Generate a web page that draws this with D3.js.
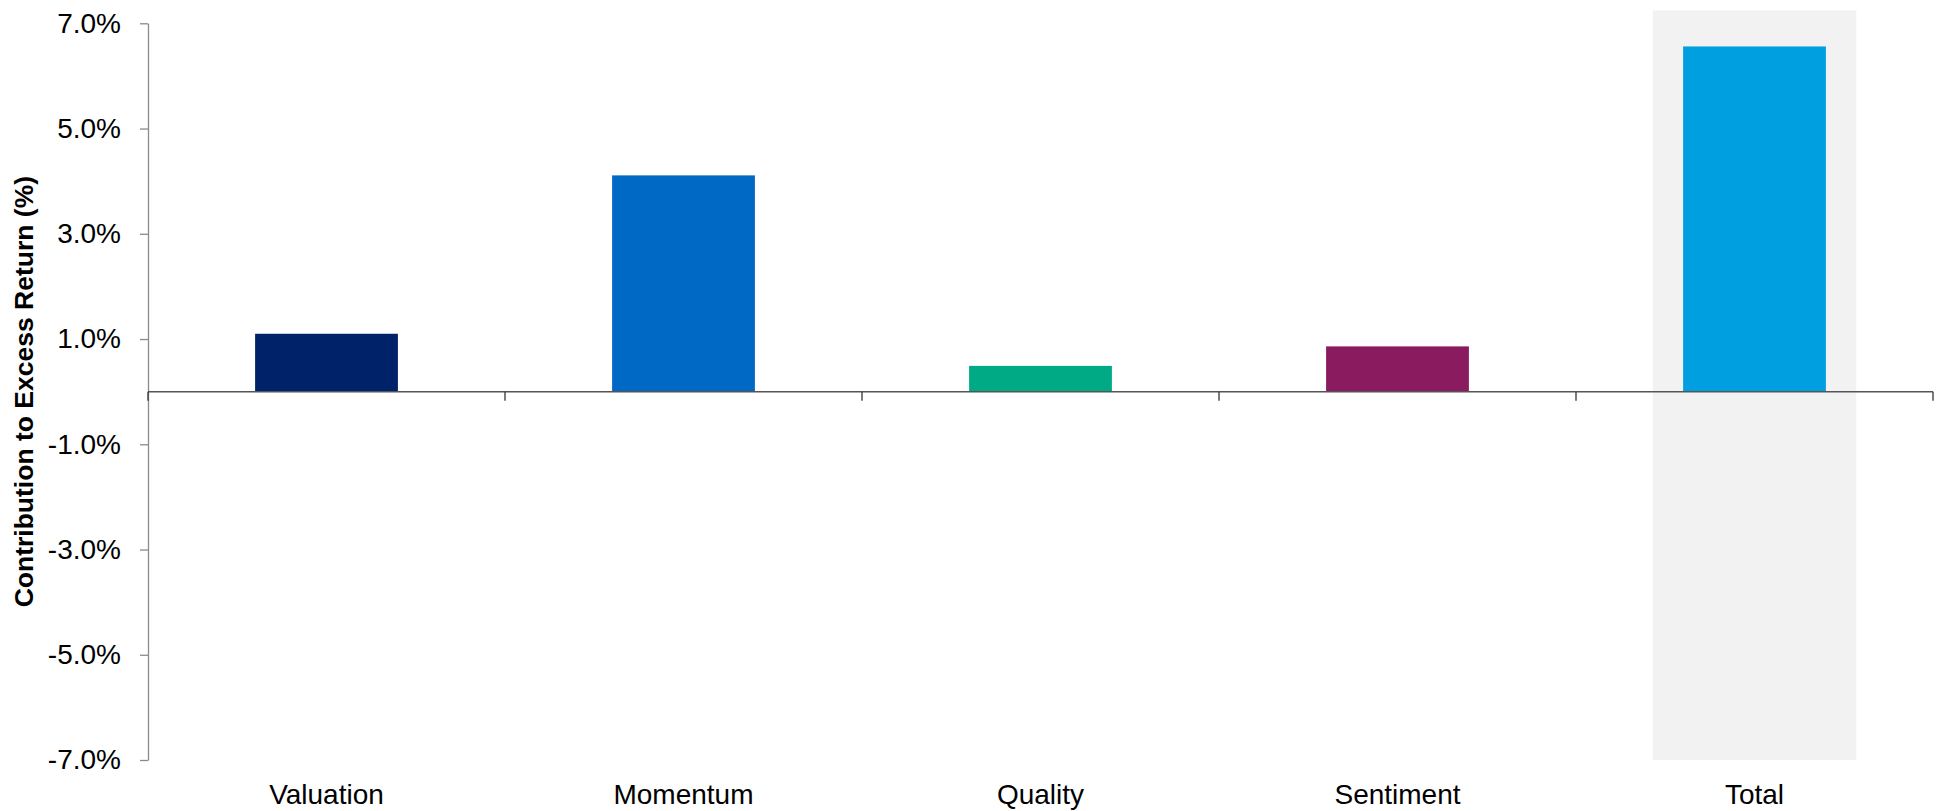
<!DOCTYPE html>
<html>
<head>
<meta charset="utf-8">
<script src="https://cdn.jsdelivr.net/npm/d3@7"></script>
<style>
  html, body { margin: 0; padding: 0; background: #fff; }
  svg { display: block; font-family: 'Liberation Sans', Arial, sans-serif; }
</style>
</head>
<body>
<svg id="chart" width="1941" height="811"></svg>
<script>
// Factor contribution to excess return, bar chart with a shaded "Total" column.
'use strict';

var CATEGORIES = ['Valuation', 'Momentum', 'Quality', 'Sentiment', 'Total'];
var VALUES = [1.10, 4.11, 0.49, 0.86, 6.56];
var COLORS = ['#002269', '#0069C6', '#00AA85', '#8A1B5E', '#00A0E0'];
var Y_TICKS = [7, 5, 3, 1, -1, -3, -5, -7];
var HIGHLIGHT = 'Total';
var Y_TITLE = 'Contribution to Excess Return (%)';

(function draw() {
  var svg = d3.select('#chart');
  var left = 148, right = 1933, top = 23.3, bottom = 760;

  var x = d3.scaleBand().domain(CATEGORIES).range([left, right]).paddingInner(0).paddingOuter(0);
  var y = d3.scaleLinear().domain([-7, 7]).range([bottom, top]);
  var step = x.bandwidth();

  // shaded column behind the total bar
  svg.append('rect')
    .attr('x', x(HIGHLIGHT) + step * 0.5 - step * 0.285)
    .attr('y', top - 13)
    .attr('width', step * 0.57)
    .attr('height', bottom - (top - 13))
    .style('fill', '#F2F2F2');

  // bars
  svg.append('g').selectAll('rect')
    .data(CATEGORIES)
    .enter().append('rect')
    .attr('x', function (d) { return x(d) + step * 0.3; })
    .attr('width', step * 0.4)
    .attr('y', function (d, i) { return y(Math.max(0, VALUES[i])); })
    .attr('height', function (d, i) { return Math.abs(y(VALUES[i]) - y(0)); })
    .style('fill', function (d, i) { return COLORS[i]; });

  // y axis
  var yAxis = svg.append('g')
    .attr('transform', 'translate(' + left + ',0)')
    .call(d3.axisLeft(y)
      .tickValues(Y_TICKS)
      .tickSize(8)
      .tickSizeOuter(0)
      .tickPadding(19)
      .tickFormat(function (d) { return d.toFixed(1) + '%'; }));
  yAxis.select('.domain').style('stroke', '#8A8A8A').style('stroke-width', 1.3);
  yAxis.selectAll('.tick line').style('stroke', '#8A8A8A').style('stroke-width', 1.3);
  yAxis.selectAll('.tick text')
    .style('font-family', "'Liberation Sans', Arial, sans-serif")
    .style('font-size', '28px')
    .style('fill', '#000');

  // x axis at zero with ticks on the category boundaries
  var zeroY = y(0);
  var boundaries = CATEGORIES.map(function (c) { return x(c); }).concat([right]);
  var xAxis = svg.append('g');
  xAxis.append('line')
    .attr('x1', left).attr('x2', right)
    .attr('y1', zeroY).attr('y2', zeroY)
    .style('stroke', '#555').style('stroke-width', 1.5);
  xAxis.selectAll('line.tick')
    .data(boundaries)
    .enter().append('line')
    .attr('class', 'tick')
    .attr('x1', function (d) { return d; }).attr('x2', function (d) { return d; })
    .attr('y1', zeroY).attr('y2', zeroY + 9)
    .style('stroke', '#333').style('stroke-width', 1.3);

  // category labels below the plot
  svg.append('g').selectAll('text')
    .data(CATEGORIES)
    .enter().append('text')
    .attr('x', function (d) { return x(d) + step / 2; })
    .attr('y', 804)
    .attr('text-anchor', 'middle')
    .style('font-size', '28px')
    .style('fill', '#000')
    .text(function (d) { return d; });

  // y title
  svg.append('text')
    .attr('transform', 'translate(33,' + ((top + bottom) / 2) + ') rotate(-90)')
    .attr('text-anchor', 'middle')
    .style('font-size', '26.5px')
    .style('font-weight', 'bold')
    .style('fill', '#000')
    .text(Y_TITLE);
}());
</script>
</body>
</html>
